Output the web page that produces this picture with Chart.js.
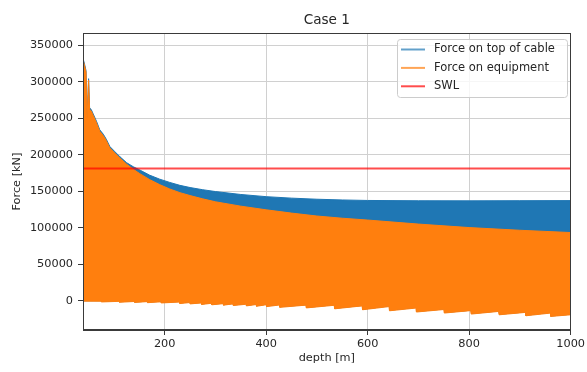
<!DOCTYPE html>
<html>
<head>
<meta charset="utf-8">
<title>Case 1</title>
<script src="https://cdn.jsdelivr.net/npm/chart.js@4.4.1/dist/chart.umd.min.js"></script>
<style>
  html, body { margin: 0; padding: 0; background: #fff; }
  #wrap { width: 587px; height: 372px; }
</style>
</head>
<body>
<div id="wrap"><canvas id="forceChart" width="587" height="372"></canvas></div>
<script>
// depth [m] where the upper envelopes are sampled
const DEPTH_UPPER = [39, 42, 45, 47, 50, 52, 55, 59, 66, 72, 79, 85, 92, 102, 112, 125, 138, 151, 170, 190,
  210, 230, 250, 275, 300, 350, 400, 450, 500, 550, 600, 700, 800, 900, 1000];

// peak force on top of cable [kN]
const CABLE_MAX = [332000, 324000, 315000, 250000, 304000, 264000, 262000, 256000, 245000, 234000, 228000, 221000,
  211000, 204000, 197000, 189000, 183500, 179000, 172000, 166500,
  162000, 158000, 155000, 152000, 149500, 145500, 142500, 140500, 139000, 138000, 137300, 136900, 136800, 137000, 137100];

// peak force on equipment [kN]
const EQUIP_MAX = [330000, 322000, 313000, 248000, 302000, 262000, 260000, 254000, 243000, 232000, 226000, 219000,
  209000, 202000, 195000, 187000, 180000, 174000, 166000, 159000,
  153000, 148000, 144000, 139500, 135500, 129500, 124500, 120000, 116000, 113000, 110500, 105000, 100200, 96500, 93400];

// lowest force on equipment [kN] (saw-tooth below zero)
const DEPTH_LOWER = [39, 74, 75, 110, 111, 140, 141, 165, 166, 192, 193, 229, 230, 249, 250, 272, 273, 292, 293,
  315, 316, 334, 335, 360, 361, 380, 381, 400, 401, 426, 427, 478, 479, 534, 535, 589, 590, 642, 643,
  695, 696, 750, 751, 803, 804, 858, 859, 911, 912, 960, 961, 1000];
const EQUIP_MIN = [-500, -600, -1600, -800, -2000, -1000, -2200, -1200, -2600, -1500, -3000, -1800, -3800, -2500,
  -4300, -3000, -5000, -3500, -5500, -4000, -6000, -4300, -6500, -4800, -7000, -5200, -7500, -5500, -8000, -5800,
  -9000, -6000, -9800, -6200, -11000, -7000, -12300, -8000, -13700, -10000, -15400, -12000, -16800, -13500, -18200,
  -14600, -19200, -15900, -20500, -16900, -21400, -19200];

const SWL = 181000;

const X_TICKS = [200, 400, 600, 800, 1000];
const Y_TICKS = [0, 50000, 100000, 150000, 200000, 250000, 300000, 350000];
const LEGEND_LABELS = ['Force on top of cable', 'Force on equipment', 'SWL'];

const COLORS = {
  blue: '#1f77b4',
  orange: '#ff7f0e',
  red: 'rgba(255, 0, 0, 0.7)',
  text: '#262626',
  grid: '#d0d0d0',
  spine: '#3a3a3a'
};
const FONT = 'DejaVu Sans';

const toPoints = (xs, ys) => xs.map((x, i) => ({ x, y: ys[i] }));

// box around the axes, drawn over the filled areas
const framePlugin = {
  id: 'frame',
  afterDatasetsDraw(chart) {
    const { ctx, chartArea: a } = chart;
    ctx.save();
    ctx.strokeStyle = COLORS.spine;
    ctx.lineWidth = 1;
    ctx.strokeRect(Math.round(a.left) + 0.5, Math.round(a.top) + 0.5,
      Math.round(a.right - a.left) - 1, Math.round(a.bottom - a.top) - 1);
    ctx.restore();
  }
};

// legend box in the upper right corner of the axes
const legendPlugin = {
  id: 'boxLegend',
  afterDraw(chart) {
    const { ctx } = chart;
    const handles = ['rgba(31, 119, 180, 0.7)', 'rgba(255, 127, 14, 0.7)', COLORS.red];
    const x = 397, y = 39, w = 170, h = 58, r = 3;
    ctx.save();
    ctx.beginPath();
    ctx.roundRect(x + 0.5, y + 0.5, w, h, r);
    ctx.fillStyle = 'rgba(255, 255, 255, 0.8)';
    ctx.fill();
    ctx.strokeStyle = '#cccccc';
    ctx.lineWidth = 1;
    ctx.stroke();
    ctx.font = `11.5px "${FONT}"`;
    ctx.textBaseline = 'middle';
    LEGEND_LABELS.forEach((label, i) => {
      const rowY = 49.5 + i * 18.4;
      ctx.strokeStyle = handles[i];
      ctx.lineWidth = 2;
      ctx.beginPath();
      ctx.moveTo(401, rowY);
      ctx.lineTo(425, rowY);
      ctx.stroke();
      ctx.fillStyle = COLORS.text;
      ctx.fillText(label, 434, rowY);
    });
    ctx.restore();
  }
};

const tickFont = { family: FONT, size: 11.3 };

const ctx = document.getElementById('forceChart').getContext('2d');
const chart = new Chart(ctx, {
  type: 'line',
  data: {
    datasets: [{
      label: LEGEND_LABELS[0],
      data: toPoints(DEPTH_UPPER, CABLE_MAX),
      borderColor: COLORS.blue,
      backgroundColor: COLORS.blue,
      borderWidth: 1,
      fill: { target: 2 },
      order: 3
    }, {
      label: LEGEND_LABELS[1],
      data: toPoints(DEPTH_UPPER, EQUIP_MAX),
      borderColor: COLORS.orange,
      backgroundColor: COLORS.orange,
      borderWidth: 1,
      fill: { target: 2 },
      order: 1
    }, {
      label: 'equipment min',
      data: toPoints(DEPTH_LOWER, EQUIP_MIN),
      borderColor: COLORS.orange,
      borderWidth: 1,
      fill: false,
      order: 2
    }, {
      label: LEGEND_LABELS[2],
      data: toPoints([39, 1000], [SWL, SWL]),
      borderColor: COLORS.red,
      borderWidth: 2,
      fill: false,
      order: 0
    }]
  },
  options: {
    responsive: false,
    animation: false,
    events: [],
    elements: { point: { radius: 0 }, line: { tension: 0 } },
    layout: { padding: { left: 0, right: 15, top: 0, bottom: 0 } },
    plugins: {
      legend: { display: false },
      tooltip: { enabled: false },
      title: {
        display: true,
        text: 'Case 1',
        fullSize: false,
        color: COLORS.text,
        font: { family: FONT, size: 13.6, weight: 'normal' },
        padding: { top: 12.5, bottom: 4.2 }
      }
    },
    scales: {
      x: {
        type: 'linear',
        min: 39,
        max: 1000,
        afterBuildTicks: s => { s.ticks = X_TICKS.map(v => ({ value: v })); },
        afterFit: s => { s.height = 42; },
        grid: { color: COLORS.grid, lineWidth: 1, tickLength: 5, tickColor: COLORS.spine },
        border: { color: COLORS.spine, width: 1 },
        ticks: { color: COLORS.text, font: tickFont, padding: 2, maxRotation: 0, callback: v => String(v) },
        title: { display: true, text: 'depth [m]', color: COLORS.text, font: tickFont, padding: { top: 0, bottom: 7 } }
      },
      y: {
        type: 'linear',
        min: -40000,
        max: 366500,
        afterBuildTicks: s => { s.ticks = Y_TICKS.map(v => ({ value: v })); },
        afterFit: s => { s.width = 83; },
        grid: { color: COLORS.grid, lineWidth: 1, tickLength: 5, tickColor: COLORS.spine },
        border: { color: COLORS.spine, width: 1 },
        ticks: { color: COLORS.text, font: tickFont, padding: 5, callback: v => String(v) },
        title: { display: true, text: 'Force [kN]', color: COLORS.text, font: tickFont, padding: { top: 10, bottom: 0 } }
      }
    }
  },
  plugins: [framePlugin, legendPlugin]
});
</script>
</body>
</html>
